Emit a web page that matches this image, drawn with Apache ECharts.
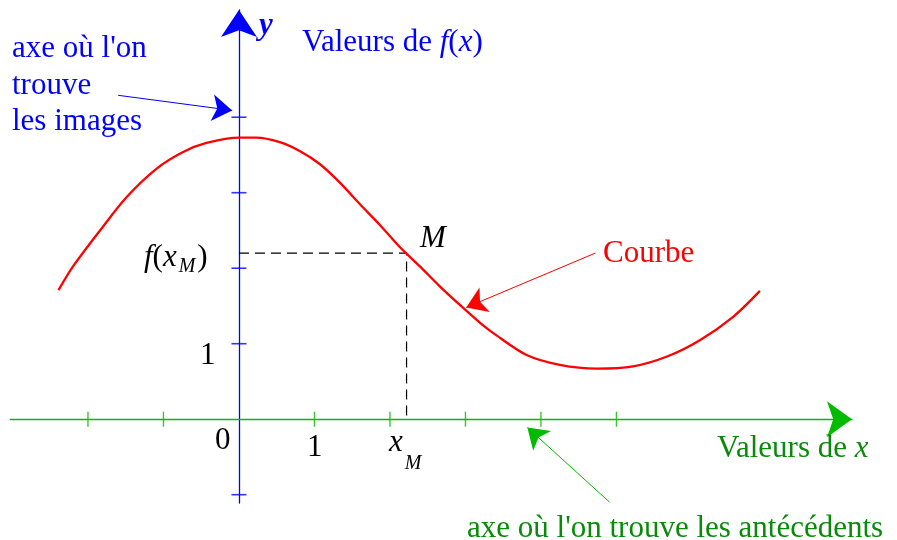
<!DOCTYPE html>
<html lang="fr">
<head>
<meta charset="utf-8">
<style>
  html, body { margin: 0; height: 100%; background: #fff; }
  #chart { width: 897px; height: 540px; }
</style>
</head>
<body>
<div id="chart"></div>
<script src="https://cdn.jsdelivr.net/npm/echarts@6/dist/echarts.min.js"></script>
<script>
// étendue du repère (en unités)
var xMin = -3.03, xMax = 8.12;
var yMin = -1.11, yMax = 5.42;

var curveX = [-2.39, -2.20, -1.84, -1.49, -1.09, -0.74, -0.43, 0.01, 0.23, 0.54, 0.81, 1.07, 1.34,
              1.60, 1.87, 2.13, 2.40, 2.66, 2.93, 3.19, 3.37, 3.81, 4.25, 4.74, 5.22, 5.67, 6.11, 6.55, 6.90];
var curveY = [1.71, 2.02, 2.50, 2.94, 3.32, 3.54, 3.66, 3.73, 3.73, 3.67, 3.55, 3.38, 3.13,
              2.85, 2.57, 2.28, 2.02, 1.76, 1.51, 1.28, 1.14, 0.85, 0.72, 0.67, 0.70, 0.83, 1.05, 1.36, 1.70];

// graduations
var xTicks = [-2, -1, 1, 2, 3, 4, 5];
var yTicks = [-1, 1, 2, 3, 4];

// point M
var xM = 2.22, yM = 2.2;

// flèches d'annotation : départ -> pointe
var arrowBlue = [[-1.60, 4.29], [-0.09, 4.09]];
var arrowRed = [[4.72, 2.20], [3.01, 1.48]];
var arrowGreen = [[4.91, -1.10], [3.82, -0.11]];

var BLUE = '#0000ff', RED = '#ff0000', GREEN = '#00bb00', DKGREEN = '#0a8a0a';
var FONT = 'Liberation Serif';

var chart = echarts.init(document.getElementById('chart'));

var ctx = document.createElement('canvas').getContext('2d');
function fontOf(p) {
    return (p.i ? 'italic ' : '') + (p.b ? 'bold ' : '') + p.s + 'px "' + FONT + '"';
}
// morceaux de texte posés à la suite sur une ligne de base
function run(parts, x, base, color) {
    var out = [];
    parts.forEach(function (p) {
        var f = fontOf(p);
        x += (p.dx || 0);
        out.push({
            type: 'text', x: x, y: base + (p.dy || 0) - 0.31 * p.s, z: 100,
            style: { text: p.t, font: f, fill: color, verticalAlign: 'middle', textVerticalAlign: 'middle' }
        });
        ctx.font = f;
        x += ctx.measureText(p.t).width;
    });
    return out;
}

var S = 31;
var texts = [].concat(
    run([{ t: 'y', s: 31, i: true, b: true }], 259, 36, BLUE),
    run([{ t: 'Valeurs de ', s: S }, { t: 'f', s: S, i: true }, { t: '(', s: S }, { t: 'x', s: S, i: true }, { t: ')', s: S }], 302, 52, BLUE),
    run([{ t: "axe où l'on", s: S }], 12, 58, BLUE),
    run([{ t: 'trouve', s: S }], 12, 95, BLUE),
    run([{ t: 'les images', s: S }], 12, 131, BLUE),
    run([{ t: 'Courbe', s: S }], 603, 263, RED),
    run([{ t: 'Valeurs de ', s: S }, { t: 'x', s: S, i: true }], 717, 458, DKGREEN),
    run([{ t: "axe où l'on trouve les antécédents", s: S }], 467, 538, DKGREEN),
    run([{ t: 'M', s: S, i: true }], 420, 248, '#000'),
    run([{ t: '0', s: S }], 215, 450, '#000'),
    run([{ t: '1', s: S }], 307, 457, '#000'),
    run([{ t: '1', s: S }], 200, 365, '#000'),
    run([{ t: 'x', s: S, i: true }, { t: 'M', s: 20, i: true, dx: 2, dy: 18 }], 389, 452, '#000'),
    run([{ t: 'f', s: S, i: true }, { t: '(', s: S }, { t: 'x', s: S, i: true },
         { t: 'M', s: 20, i: true, dx: 2, dy: 6 }, { t: ')', s: S, dx: 2 }], 144, 267, '#000')
);

var option = {
    animation: false,
    backgroundColor: '#fff',
    grid: { left: 10.2, right: 45, top: 10, bottom: 37 },
    xAxis: {
        type: 'value', min: xMin, max: xMax,
        axisLine: { onZero: true, symbol: ['none', 'arrow'], symbolSize: [27, 25], lineStyle: { color: GREEN, width: 1.3 } },
        axisTick: { show: false }, axisLabel: { show: false }, splitLine: { show: false }
    },
    yAxis: {
        type: 'value', min: yMin, max: yMax,
        axisLine: { onZero: true, symbol: ['none', 'arrow'], symbolSize: [27, 27], lineStyle: { color: BLUE, width: 1.3 } },
        axisTick: { show: false }, axisLabel: { show: false }, splitLine: { show: false }
    },
    graphic: texts,
    series: [
        {
            type: 'scatter', silent: true, symbol: 'rect', symbolSize: [1.4, 15],
            itemStyle: { color: GREEN },
            data: xTicks.map(function (v) { return [v, 0]; })
        },
        {
            type: 'scatter', silent: true, symbol: 'rect', symbolSize: [15, 1.6],
            itemStyle: { color: BLUE },
            data: yTicks.map(function (v) { return [0, v]; })
        },
        {
            type: 'line', silent: true, symbol: 'none',
            lineStyle: { color: '#000', width: 1.2, type: [10, 6] },
            data: [[0, yM], [xM, yM], [xM, 0]]
        },
        {
            type: 'line', smooth: 0.3, symbol: 'none', silent: true, z: 5,
            lineStyle: { color: RED, width: 2.3 },
            data: curveX.map(function (x, i) { return [x, curveY[i]]; })
        },
        {
            type: 'lines', coordinateSystem: 'cartesian2d', silent: true,
            symbol: ['none', 'arrow'], symbolSize: 20,
            lineStyle: { width: 1, opacity: 1, curveness: 0 },
            data: [
                { coords: arrowBlue, lineStyle: { color: BLUE } },
                { coords: arrowRed, lineStyle: { color: RED } },
                { coords: arrowGreen, lineStyle: { color: GREEN } }
            ]
        }
    ]
};

chart.setOption(option);
window.addEventListener('resize', chart.resize);
</script>
</body>
</html>
